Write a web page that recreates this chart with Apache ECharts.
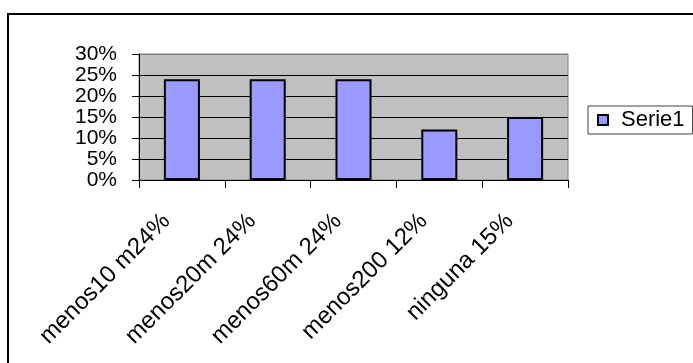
<!DOCTYPE html>
<html>
<head>
<meta charset="utf-8">
<script src="https://cdn.jsdelivr.net/npm/echarts@6/dist/echarts.min.js"></script>
<style>
  html, body { margin: 0; padding: 0; background: #fff; }
  #chart { width: 693px; height: 363px; }
</style>
</head>
<body>
<div id="chart"></div>
<script>
// Distance categories and their shares (percent)
const categories = ['menos10 m24%', 'menos20m 24%', 'menos60m 24%', 'menos200 12%', 'ninguna 15%'];
const serie1 = [24, 24, 24, 12, 15];
const seriesName = 'Serie1';
const yMax = 30;
const yStep = 5;

const FONT = '"Liberation Sans", Arial, sans-serif';

const chart = echarts.init(document.getElementById('chart'), null, { renderer: 'canvas' });

chart.setOption({
  animation: false,
  backgroundColor: '#ffffff',
  textStyle: { fontFamily: FONT },
  graphic: [{
    type: 'rect',
    silent: true,
    z: -10,
    shape: { x: 8, y: 14, width: 720, height: 400 },
    style: { fill: 'none', stroke: '#000', lineWidth: 2 }
  }],
  grid: {
    left: 139, top: 54, width: 429, height: 126,
    show: true,
    backgroundColor: '#C0C0C0',
    borderColor: '#808080',
    borderWidth: 1
  },
  legend: {
    left: 588, top: 106,
    padding: [3, 8, 3, 9],
    backgroundColor: '#fff',
    borderColor: '#404040',
    borderWidth: 1,
    icon: 'rect',
    itemWidth: 10, itemHeight: 10,
    textStyle: { fontFamily: FONT, fontSize: 22, color: '#000', padding: [0, 0, 0, 8] },
    data: [seriesName]
  },
  xAxis: {
    type: 'category',
    data: categories,
    axisLine: { lineStyle: { color: '#000', width: 1 } },
    axisTick: { show: true, length: 8, lineStyle: { color: '#000' } },
    axisLabel: {
      interval: 0,
      rotate: 45,
      margin: 22,
      padding: [0, 22, 0, 0],
      fontFamily: FONT,
      fontSize: 24,
      color: '#000'
    }
  },
  yAxis: {
    type: 'value',
    min: 0, max: yMax, interval: yStep,
    axisLine: { show: true, lineStyle: { color: '#000', width: 1 } },
    axisTick: { show: true, length: 7, lineStyle: { color: '#000' } },
    axisLabel: {
      formatter: '{value}%',
      margin: 22,
      fontFamily: FONT,
      fontSize: 21,
      color: '#000'
    },
    splitLine: {
      show: true,
      lineStyle: { color: ['#000', '#000', '#000', '#000', '#000', '#000', '#808080'], width: 1 }
    }
  },
  series: [{
    name: seriesName,
    type: 'bar',
    data: serie1,
    barWidth: '42%',
    itemStyle: { color: '#9999FF', borderColor: '#000', borderWidth: 2 }
  }]
});
</script>
</body>
</html>
